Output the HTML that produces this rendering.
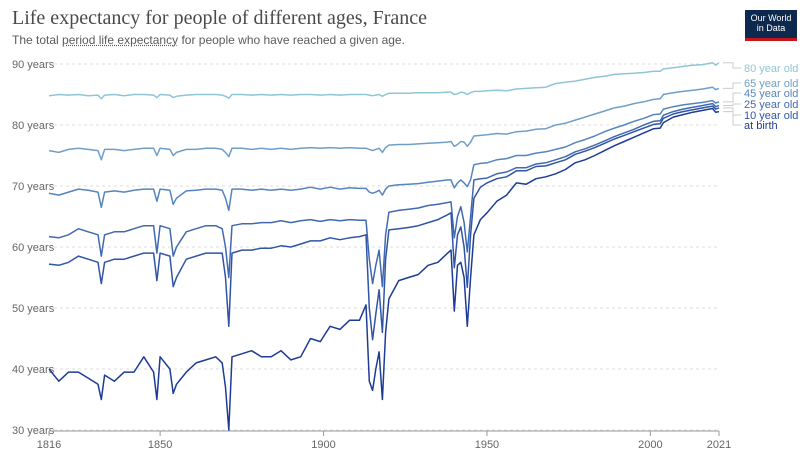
<!DOCTYPE html>
<html><head><meta charset="utf-8">
<style>
body{margin:0;background:#fff;font-family:"Liberation Sans",sans-serif;}
#wrap{position:relative;width:800px;height:456px;overflow:hidden;}
.title{position:absolute;left:12px;top:7px;font-family:"Liberation Serif",serif;font-size:20px;color:#4a4a4a;}
.sub{position:absolute;left:12px;top:33px;font-size:12px;color:#5b5b5b;}
.sub u{text-decoration:underline dotted;}
.logo{position:absolute;left:745px;top:10px;width:52px;height:28px;background:#0d2a4e;border-bottom:3px solid #c4161c;color:#fff;font-size:9px;line-height:10px;text-align:center;padding-top:3px;box-sizing:border-box;height:31px;}
</style></head><body>
<div id="wrap">
<div class="title">Life expectancy for people of different ages, France</div>
<div class="sub">The total <u>period life expectancy</u> for people who have reached a given age.</div>
<div class="logo">Our World<br>in Data</div>
<svg id="chart" width="800" height="456" style="position:absolute;left:0;top:0"></svg>
</div>
<script>
const years=[1816,1819,1822,1825,1828,1831,1832,1833,1836,1839,
1842,1845,1848,1849,1850,1853,1854,1855,1858,1861,
1864,1867,1869,1870,1871,1872,1875,1878,1881,1884,
1887,1890,1893,1896,1899,1902,1905,1908,1911,1913,
1914,1915,1916,1917,1918,1919,1920,1923,1926,1929,
1932,1935,1938,1939,1940,1941,1942,1943,1944,1945,
1946,1948,1950,1953,1956,1959,1962,1965,1968,1971,
1974,1977,1980,1983,1986,1989,1992,1995,1998,2001,
2003,2004,2007,2010,2013,2016,2019,2020,2021];
const age80=[84.8,85,84.9,85,84.8,84.9,84.3,84.9,85,84.8,
85,85,84.9,84.5,85,84.9,84.5,84.7,84.9,85,
85,85,84.9,84.7,84.4,85,85,84.9,85,84.9,
85,84.9,85,85,84.9,85,84.9,85,85,85,
84.9,84.8,84.9,85,84.7,85,85.2,85.2,85.2,85.3,
85.3,85.3,85.4,85.4,85,85.1,85.4,85.3,85,85.3,
85.5,85.5,85.6,85.7,85.6,85.9,86,86.1,86.2,86.8,
87,87.2,87.5,87.8,88,88.3,88.4,88.5,88.6,88.8,
88.8,89.2,89.4,89.6,89.8,89.9,90.2,89.8,90.2];
const age65=[75.8,75.5,76,76.2,76,75.8,74.3,76,76,75.8,
76,76.2,76.2,75,76.2,76,75,75.5,76,76,
76.2,76.2,76,75.5,74.8,76.2,76.2,76,76.2,76,
76.2,76,76.2,76.3,76.2,76.3,76.2,76.3,76.2,76.2,
76,75.8,76,76.2,75.5,76.3,76.7,76.8,76.8,76.9,
77,77.1,77.2,77.3,76.5,76.8,77.3,77.2,76.5,77.2,
78.2,78.3,78.4,78.6,78.5,78.9,79,79.3,79.4,80,
80.3,80.8,81.3,81.8,82.3,82.8,83.1,83.5,83.8,84.2,
84.3,85,85.3,85.5,85.7,85.9,86.2,85.8,86];
const age45=[68.8,68.5,69,69.5,69.3,69,66.5,69,69.2,69,
69.3,69.5,69.5,67.5,69.5,69.3,67,68,69.2,69.3,
69.5,69.5,69.3,68,66,69.5,69.5,69.3,69.5,69.3,
69.5,69.3,69.5,69.8,69.5,69.8,69.5,69.7,69.6,69.6,
69,68.8,69,69.3,68.5,69.5,70,70.2,70.3,70.4,
70.6,70.8,71,71,69.7,70.5,71,70.5,69.9,71,
73.5,73.7,73.8,74.3,74.5,75,75,75.4,75.6,76,
76.4,77.1,77.6,78.2,78.9,79.5,80,80.6,81.1,81.7,
81.8,82.6,83,83.3,83.5,83.7,84,83.6,83.8];
const age25=[61.7,61.5,62,63,62.5,62,58.5,62,62.5,62.5,
63,63.5,63.5,59,63.5,63,58.5,60,62.5,63,
63.5,63.5,63,60,55,63.5,63.8,63.8,64,64,
64.3,64,64.3,64.5,64.2,64.5,64.3,64.5,64.4,64.4,
58,54,57,59.5,53.5,62,65.7,66,66.2,66.4,
66.8,67,67.3,67.4,61.5,65,66.6,64,59.2,65,
71,71.2,71.3,72,72.3,73,73,73.6,73.8,74.3,
74.8,75.6,76.1,76.7,77.4,78.1,78.7,79.3,80,80.6,
80.7,81.6,82.2,82.6,82.9,83.2,83.5,83,83.2];
const age10=[57.2,57,57.5,58.5,58,57.5,54,57.5,58,58,
58.5,59,59,54.5,59,58.5,53.5,55,58,58.5,
59,59,59,55,47,59,59.5,59.5,59.8,59.8,
60.2,60,60.5,61,61,61.5,61.2,61.5,61.7,62,
50,44.8,49,53,46,58,62.8,63,63.2,63.5,
64,64.5,65.3,65.6,56.6,62,63.3,60,53.4,62,
68,69.8,70.5,71.2,71.5,72.5,72.5,73.2,73.3,73.8,
74.3,75.2,75.7,76.3,77,77.7,78.3,78.9,79.5,80.1,
80.2,81.1,81.8,82.2,82.5,82.8,83.1,82.6,82.8];
const atBirth=[40,38,39.5,39.5,38.5,37.5,35,39,38,39.5,
39.5,42,39.5,35,42,40,36,37.5,39.5,41,
41.5,42,41,37,30,42,42.5,43,42,42,
43,41.5,42,45,44.5,47,46.5,48,48,50.5,
38,36.5,40,42.8,35,46,51.5,54.5,55,55.5,
57,57.5,59,59.5,49.5,57,57.5,55,47,55,
62,64.5,65.6,67.5,68.5,70.5,70.3,71.2,71.5,72,
72.7,73.8,74.3,75,75.8,76.6,77.3,78,78.7,79.4,
79.5,80.4,81.3,81.7,82.1,82.4,82.7,82.1,82.2];
const yTicks=[30,40,50,60,70,80,90];
const xTicks=[1816,1850,1900,1950,2000,2021];
const seriesNames=["80 year old","65 year old","45 year old","25 year old","10 year old","at birth"];
const seriesData=[age80,age65,age45,age25,age10,atBirth];

const colors=["#8fc6d5","#6f9fc7","#5584bf","#4169b1","#3055a5","#1d3c94"];
const labelY=[68,83,93,104,115,125];
const X0=49,X1=719,Y0=430,Y1=64;
function xs(y){return X0+(y-1816)/(2021-1816)*(X1-X0);}
function ys(v){return Y0-(v-30)/(90-30)*(Y0-Y1);}
const svg=document.getElementById('chart');
const NS='http://www.w3.org/2000/svg';
function mk(t,a){const e=document.createElementNS(NS,t);for(const k in a)e.setAttribute(k,a[k]);svg.appendChild(e);return e;}
yTicks.forEach(v=>{
  const g=mk('line',{x1:12,x2:X1,y1:ys(v),y2:ys(v),stroke:'#dcdcdc','stroke-dasharray':'3,3'});
  
  
  const bg=mk('rect',{x:10,y:ys(v)-7,width:42,height:13,fill:'#fff'});
  
  
  const t=mk('text',{x:12,y:ys(v)+4,'font-size':11,fill:'#666','font-family':'Liberation Sans, sans-serif'});
  t.textContent=v+' years';
  
  
});
const ax=mk('line',{x1:X0,x2:X1,y1:Y0+1,y2:Y0+1,stroke:'#999'});


xTicks.forEach(y=>{
  const tk=mk('line',{x1:xs(y),x2:xs(y),y1:Y0+1,y2:Y0+6,stroke:'#999'});
  
  
  const t=mk('text',{x:xs(y),y:Y0+18,'font-size':11,fill:'#666','text-anchor':'middle','font-family':'Liberation Sans, sans-serif'});
  t.textContent=y;
  
  
});
seriesData.forEach((d,i)=>{
  const pts=d.map((v,j)=>xs(years[j]).toFixed(1)+','+ys(v).toFixed(1)).join(' ');
  const p=mk('polyline',{points:pts,fill:'none',stroke:colors[i],'stroke-width':1.5,'stroke-linejoin':'round'});
  
  
  const ey=ys(d[d.length-1]), ly=labelY[i];
  const c=mk('polyline',{points:`${X1+4},${ey} ${X1+14},${ey} ${X1+14},${ly} ${X1+22},${ly}`,fill:'none',stroke:'#ccc','stroke-width':1});
  
  
  const t=mk('text',{x:744,y:ly+4,'font-size':11,fill:colors[i],'font-family':'Liberation Sans, sans-serif'});
  t.textContent=seriesNames[i];
  
  
});
</script>
</body></html>
